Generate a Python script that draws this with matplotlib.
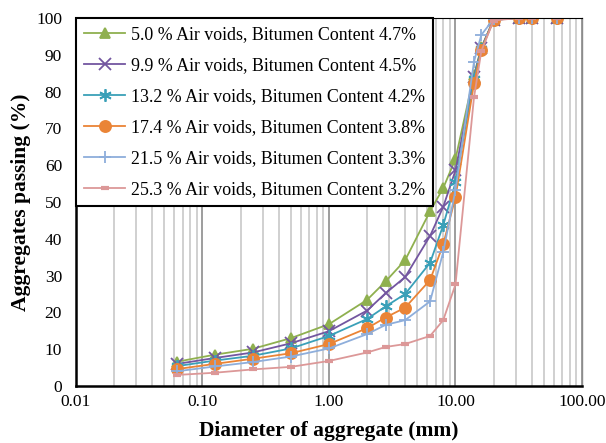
import matplotlib
matplotlib.use("Agg")
import matplotlib.pyplot as plt
from matplotlib.ticker import LogLocator, NullFormatter

# sieve sizes (mm)
sieve = [0.063, 0.125, 0.25, 0.5, 1, 2, 2.8, 4, 6.3, 8, 10, 14, 16, 20, 31.5, 40, 63]

# percent passing for each mix
pass_50 = [6.6, 8.5, 10.1, 13.0, 16.8, 23.4, 28.4, 34.2, 47.5, 53.8, 61.7, 84.5, 92.0, 99.5, 100, 100, 100]
pass_99 = [6.0, 7.6, 9.1, 11.6, 14.9, 20.5, 25.2, 29.6, 40.8, 48.7, 58.6, 84.0, 91.8, 99.5, 100, 100, 100]
pass_132 = [5.4, 6.9, 8.2, 10.2, 13.6, 18.2, 21.6, 25.0, 33.5, 43.7, 55.3, 83.5, 91.6, 99.5, 100, 100, 100]
pass_174 = [4.6, 6.0, 7.4, 8.9, 11.4, 15.7, 18.6, 21.3, 28.8, 38.5, 51.3, 82.2, 91.3, 99.5, 100, 100, 100]
pass_215 = [4.0, 5.3, 6.5, 8.0, 10.2, 14.1, 16.6, 17.9, 23.0, 36.4, 53.3, 88.1, 95.4, 99.7, 100, 100, 100]
pass_253 = [3.0, 3.6, 4.5, 5.2, 6.8, 9.1, 10.6, 11.4, 13.6, 17.9, 27.6, 78.4, 91.0, 99.3, 100, 100, 100]

labels = [
    "5.0 % Air voids, Bitumen Content 4.7%",
    "9.9 % Air voids, Bitumen Content 4.5%",
    "13.2 % Air voids, Bitumen Content 4.2%",
    "17.4 % Air voids, Bitumen Content 3.8%",
    "21.5 % Air voids, Bitumen Content 3.3%",
    "25.3 % Air voids, Bitumen Content 3.2%",
]

x_ticks = [0.01, 0.1, 1, 10, 100]
x_ticklabels = ["0.01", "0.10", "1.00", "10.00", "100.00"]
y_ticks = list(range(0, 101, 10))

plt.rcParams['font.family'] = ['Liberation Serif', 'DejaVu Serif']

fig = plt.figure(figsize=(6.06, 4.43), dpi=100)
ax = fig.add_axes([0.1254, 0.1287, 0.835, 0.8307])

# (values, colour, marker, marker size)
styles = [
    (pass_50, '#8FB04F', '^', 7),
    (pass_99, '#7356A0', 'x', 8),
    (pass_132, '#3AA0B8', (6, 2, 0), 9),
    (pass_174, '#EA8436', 'o', 8),
    (pass_215, '#8EAEDB', '+', 9),
    (pass_253, '#DC9898', '_', 6),
]

for (vals, col, mk, ms), lab in zip(styles, labels):
    ax.plot(sieve, vals, color=col, marker=mk, markersize=ms, linewidth=1.3,
            markeredgewidth=1.3 if mk != '_' else 3, label=lab)

ax.set_xscale('log')
ax.set_xlim(0.01, 100)
ax.set_ylim(0, 100)
ax.set_xticks(x_ticks)
ax.set_xticklabels(x_ticklabels)
ax.xaxis.set_minor_locator(LogLocator(base=10, subs=range(2, 10), numticks=20))
ax.xaxis.set_minor_formatter(NullFormatter())
ax.set_yticks(y_ticks)

# vertical gridlines only
ax.grid(True, which='major', axis='x', color='#8C8C8C', linewidth=1.2)
ax.grid(True, which='minor', axis='x', color='#C4C4C4', linewidth=1.1)
ax.set_axisbelow(True)

ax.tick_params(axis='both', which='both', length=0, labelsize=12.5, colors='black')
ax.tick_params(axis='y', pad=10)
ax.tick_params(axis='x', pad=6)

for side in ['left', 'bottom']:
    ax.spines[side].set_linewidth(1.8)
    ax.spines[side].set_color('black')
ax.spines['top'].set_linewidth(0.8)
ax.spines['right'].set_linewidth(1.0)
ax.spines['right'].set_color('#8C8C8C')

ax.set_xlabel('Diameter of aggregate (mm)', fontsize=15.5, fontweight='bold', labelpad=8)
ax.set_ylabel('Aggregates passing (%)', fontsize=15.5, fontweight='bold', labelpad=4)

leg = ax.legend(loc='upper left', bbox_to_anchor=(0, 1), borderaxespad=0,
                fontsize=12.9, frameon=True, fancybox=False, framealpha=1,
                edgecolor='black', handlelength=2.3, handletextpad=0.3,
                labelspacing=0.78, borderpad=0.45)
leg.get_frame().set_linewidth(1.5)

fig.savefig('out.png', dpi=100)
